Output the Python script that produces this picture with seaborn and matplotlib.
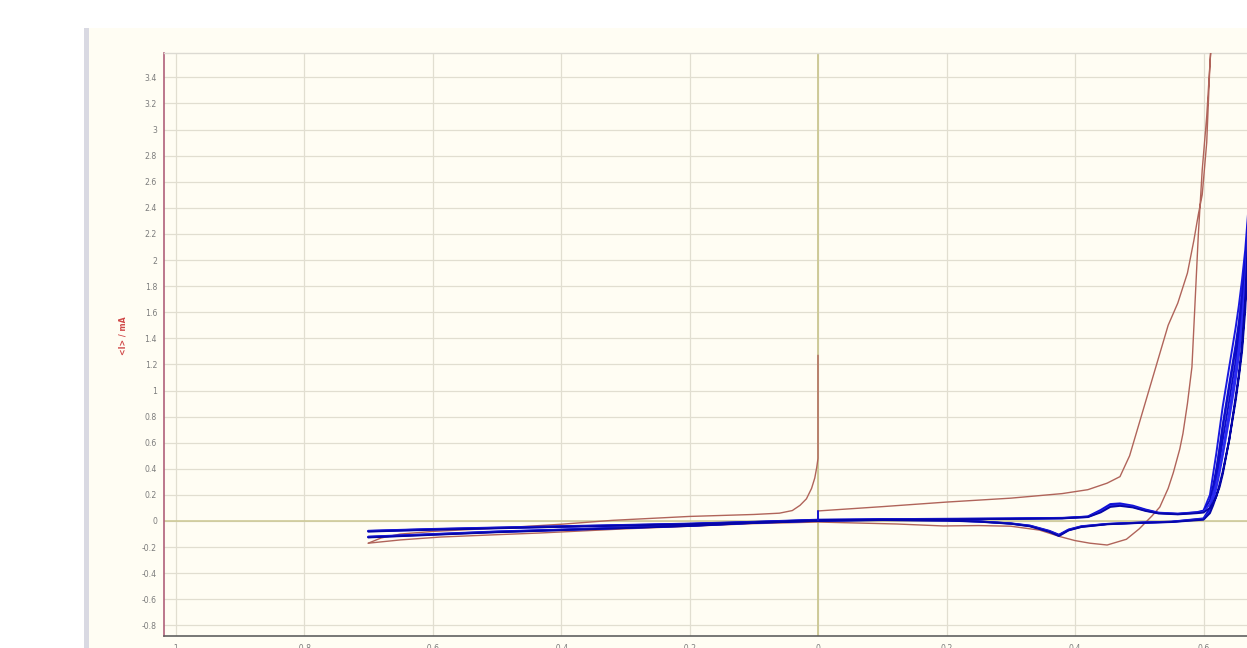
import numpy as np
import pandas as pd
import matplotlib
matplotlib.use("Agg")
import matplotlib.pyplot as plt
from matplotlib.patches import Rectangle
from matplotlib.ticker import MultipleLocator, FuncFormatter
import seaborn as sns

# ---------------- data ----------------
# Blue: repeated cycles, potential grid shared by all cycles (V)
E_fwd = [-0.70, -0.60, -0.50, -0.40, -0.30, -0.20, -0.10, 0.00, 0.10, 0.20,
         0.30, 0.38, 0.42, 0.44, 0.455, 0.47, 0.49, 0.51, 0.53, 0.56,
         0.59, 0.60, 0.61, 0.615, 0.62, 0.625, 0.63, 0.64, 0.65, 0.655,
         0.66, 0.665, 0.67, 0.68, 0.69]
E_rev = [0.69, 0.68, 0.67, 0.665, 0.66, 0.655, 0.65, 0.64, 0.63, 0.625,
         0.62, 0.615, 0.61, 0.60, 0.55, 0.50, 0.45, 0.41, 0.39, 0.375,
         0.36, 0.33, 0.30, 0.25, 0.20, 0.10, 0.00, -0.10, -0.20, -0.30,
         -0.40, -0.50, -0.60, -0.70]

# Currents (mA), forward scans
I_fwd_c1 = [-0.077, -0.063, -0.052, -0.042, -0.032, -0.022, -0.008, 0.008, 0.012, 0.015,
            0.018, 0.022, 0.035, 0.085, 0.130, 0.135, 0.118, 0.088, 0.064, 0.056,
            0.068, 0.080, 0.20, 0.36, 0.52, 0.70, 0.88, 1.18, 1.48, 1.65,
            1.85, 2.08, 2.40, 3.10, 4.00]
I_fwd_c2 = [-0.075, -0.061, -0.050, -0.040, -0.030, -0.020, -0.006, 0.010, 0.014, 0.017,
            0.020, 0.024, 0.033, 0.078, 0.122, 0.128, 0.112, 0.084, 0.062, 0.055,
            0.066, 0.075, 0.16, 0.27, 0.40, 0.55, 0.72, 1.02, 1.32, 1.50,
            1.72, 1.98, 2.35, 3.15, 4.05]
I_fwd_c3 = [-0.079, -0.065, -0.054, -0.044, -0.034, -0.023, -0.009, 0.007, 0.011, 0.014,
            0.017, 0.021, 0.031, 0.072, 0.115, 0.122, 0.108, 0.080, 0.060, 0.053,
            0.063, 0.070, 0.13, 0.20, 0.29, 0.40, 0.54, 0.84, 1.15, 1.33,
            1.55, 1.85, 2.30, 3.20, 4.10]
I_fwd_c4 = [-0.081, -0.067, -0.056, -0.045, -0.035, -0.024, -0.010, 0.006, 0.010, 0.013,
            0.016, 0.020, 0.030, 0.066, 0.108, 0.116, 0.104, 0.077, 0.058, 0.051,
            0.060, 0.065, 0.10, 0.14, 0.19, 0.26, 0.36, 0.62, 0.95, 1.12,
            1.35, 1.70, 2.25, 3.25, 4.20]

# Currents (mA), reverse scans
I_rev_c1 = [4.00, 2.95, 2.25, 1.95, 1.72, 1.52, 1.35, 1.05, 0.74, 0.56,
            0.38, 0.22, 0.10, 0.020, -0.005, -0.012, -0.022, -0.040, -0.065, -0.105,
            -0.075, -0.035, -0.018, -0.002, 0.006, 0.010, 0.004, -0.012, -0.035, -0.050,
            -0.066, -0.080, -0.100, -0.120]
I_rev_c2 = [4.05, 3.00, 2.20, 1.85, 1.60, 1.40, 1.22, 0.92, 0.62, 0.46,
            0.31, 0.18, 0.085, 0.017, -0.006, -0.013, -0.023, -0.042, -0.068, -0.108,
            -0.078, -0.037, -0.019, -0.003, 0.005, 0.009, 0.003, -0.013, -0.036, -0.051,
            -0.067, -0.082, -0.102, -0.122]
I_rev_c3 = [4.10, 3.05, 2.15, 1.75, 1.46, 1.26, 1.08, 0.78, 0.50, 0.37,
            0.25, 0.15, 0.072, 0.014, -0.007, -0.014, -0.024, -0.044, -0.070, -0.112,
            -0.080, -0.039, -0.020, -0.004, 0.004, 0.008, 0.002, -0.014, -0.037, -0.053,
            -0.069, -0.084, -0.104, -0.124]
I_rev_c4 = [4.20, 3.10, 2.10, 1.62, 1.30, 1.10, 0.92, 0.62, 0.38, 0.28,
            0.19, 0.12, 0.060, 0.010, -0.008, -0.015, -0.025, -0.046, -0.072, -0.115,
            -0.083, -0.041, -0.021, -0.005, 0.003, 0.007, 0.001, -0.015, -0.038, -0.054,
            -0.070, -0.086, -0.106, -0.126]

# Blue: initial point at open circuit
E_blue_start = [0.0, 0.0]
I_blue_start = [0.075, 0.010]

# Red: single scan, first part ending in the jump at 0 V
E_red_a = [-0.70, -0.68, -0.65, -0.60, -0.50, -0.40, -0.32, -0.20, -0.10, -0.06,
           -0.04, -0.028, -0.018, -0.010, -0.005, -0.002, 0.0, 0.0]
I_red_a = [-0.170, -0.130, -0.100, -0.080, -0.055, -0.025, 0.005, 0.035, 0.050, 0.060,
           0.080, 0.120, 0.170, 0.250, 0.330, 0.410, 0.480, 1.270]

# Red: anodic sweep and return
E_red_b = [0.0, 0.10, 0.20, 0.30, 0.38, 0.42, 0.45, 0.47, 0.485, 0.50,
           0.515, 0.53, 0.545, 0.56, 0.575, 0.585, 0.592, 0.598, 0.605, 0.61,
           0.615,
           0.61, 0.605, 0.598, 0.592, 0.587, 0.582, 0.575, 0.568, 0.563,
           0.553, 0.545, 0.532, 0.52, 0.512, 0.50, 0.48, 0.45, 0.423, 0.40,
           0.377, 0.345, 0.30, 0.25, 0.195, 0.123, 0.0, -0.10, -0.20, -0.30,
           -0.433, -0.50, -0.588, -0.65, -0.70]
I_red_b = [0.077, 0.110, 0.145, 0.175, 0.210, 0.240, 0.290, 0.340, 0.500, 0.750,
           1.000, 1.250, 1.500, 1.670, 1.900, 2.150, 2.350, 2.500, 2.900, 3.500,
           3.900,
           3.500, 3.100, 2.690, 2.200, 1.690, 1.180, 0.900, 0.670, 0.550,
           0.370, 0.250, 0.107, 0.040, 0.000, -0.060, -0.140, -0.184, -0.170, -0.150,
           -0.120, -0.070, -0.040, -0.035, -0.038, -0.023, -0.008, -0.020, -0.040, -0.060,
           -0.092, -0.105, -0.123, -0.145, -0.170]

x_ticks = [-1.0, -0.8, -0.6, -0.4, -0.2, 0.0, 0.2, 0.4, 0.6]
y_ticks = [-0.8, -0.6, -0.4, -0.2, 0.0, 0.2, 0.4, 0.6, 0.8, 1.0, 1.2, 1.4,
           1.6, 1.8, 2.0, 2.2, 2.4, 2.6, 2.8, 3.0, 3.2, 3.4]
y_label = "<I> / mA"

# ---------------- tables ----------------
blue_rows = []
cycles = [(I_fwd_c1, I_rev_c1), (I_fwd_c2, I_rev_c2),
          (I_fwd_c3, I_rev_c3), (I_fwd_c4, I_rev_c4)]
for k, (fw, rv) in enumerate(cycles, start=1):
    for e, i in zip(E_fwd + E_rev, fw + rv):
        blue_rows.append({"E": e, "I": i, "trace": f"c{k}"})
for e, i in zip(E_blue_start, I_blue_start):
    blue_rows.append({"E": e, "I": i, "trace": "c0"})
blue = pd.DataFrame(blue_rows)

red = pd.concat([
    pd.DataFrame({"E": E_red_a, "I": I_red_a, "trace": "a"}),
    pd.DataFrame({"E": E_red_b, "I": I_red_b, "trace": "b"}),
], ignore_index=True)

# ---------------- figure ----------------
sns.set_style("white")
plt.rcParams["font.family"] = ["DejaVu Sans"]

W, H = 1247, 648
fig = plt.figure(figsize=(W / 100, H / 100), dpi=100, facecolor="white")

# panel background and left border strip
fig.patches.append(Rectangle((89 / W, 0), 1, 1 - 28 / H, transform=fig.transFigure,
                             facecolor="#fffdf3", edgecolor="none", zorder=-10))
fig.patches.append(Rectangle((84 / W, 0), 5 / W, 1 - 28 / H, transform=fig.transFigure,
                             facecolor="#d9d9e2", edgecolor="none", zorder=-9))

ax_left, ax_right, ax_top, ax_bot = 164, 1247, 53, 636
ax = fig.add_axes([ax_left / W, 1 - ax_bot / H,
                   (ax_right - ax_left) / W, (ax_bot - ax_top) / H])
ax.set_facecolor("#fffdf3")

x0, px_per_v = 818, 642.5
y0, px_per_ma = 521, 130.5
ax.set_xlim((ax_left - x0) / px_per_v, (ax_right - x0) / px_per_v)
ax.set_ylim((y0 - ax_bot) / px_per_ma, (y0 - ax_top) / px_per_ma)

ax.set_xticks(x_ticks)
ax.set_yticks(y_ticks)
ax.xaxis.set_minor_locator(MultipleLocator(0.04))
ax.yaxis.set_minor_locator(MultipleLocator(0.02))
fmt = FuncFormatter(lambda v, p: f"{v:g}" if abs(v) > 1e-9 else "0")
ax.xaxis.set_major_formatter(fmt)
ax.yaxis.set_major_formatter(fmt)

ax.grid(True, which="major", color="#e1ded0", lw=0.9)
ax.set_axisbelow(True)
ax.axhline(0, color="#cbc792", lw=1.1, zorder=1)
ax.axvline(0, color="#cbc792", lw=1.3, zorder=1)

sns.lineplot(data=red, x="E", y="I", units="trace", estimator=None, sort=False,
             color="#b0645a", lw=1.0, ax=ax, legend=False, zorder=3)
sns.lineplot(data=blue, x="E", y="I", hue="trace", units="trace", estimator=None,
             sort=False, palette=["#1818e0", "#0c0cc8", "#2a2af0", "#0606a8", "#1414d0"],
             lw=1.4, ax=ax, legend=False, zorder=4)

ax.set_xlabel("")
ax.set_ylabel("")

ax.spines["right"].set_visible(False)
ax.spines["top"].set_color("#dcdad2")
ax.spines["top"].set_linewidth(1.0)
ax.spines["left"].set_color("#b0607a")
ax.spines["left"].set_linewidth(1.2)
ax.spines["bottom"].set_color("#606060")
ax.spines["bottom"].set_linewidth(1.2)

ax.tick_params(axis="y", which="major", direction="out", length=3.5, width=0.8,
               color="#b0607a", labelsize=5.6, labelcolor="#7c7c7c", pad=1.5)
ax.tick_params(axis="y", which="minor", direction="out", length=2, width=0.6,
               color="#b0607a")
ax.tick_params(axis="x", which="major", direction="out", length=3.5, width=0.8,
               color="#606060", labelsize=5.6, labelcolor="#7c7c7c", pad=2.5)
ax.tick_params(axis="x", which="minor", direction="out", length=2, width=0.6,
               color="#606060")

fig.text(123 / W, 1 - 336 / H, y_label, rotation=90, ha="center", va="center",
         fontsize=5.6, fontweight="bold", color="#d04848")

fig.savefig("out.png", dpi=100, facecolor=fig.get_facecolor())
